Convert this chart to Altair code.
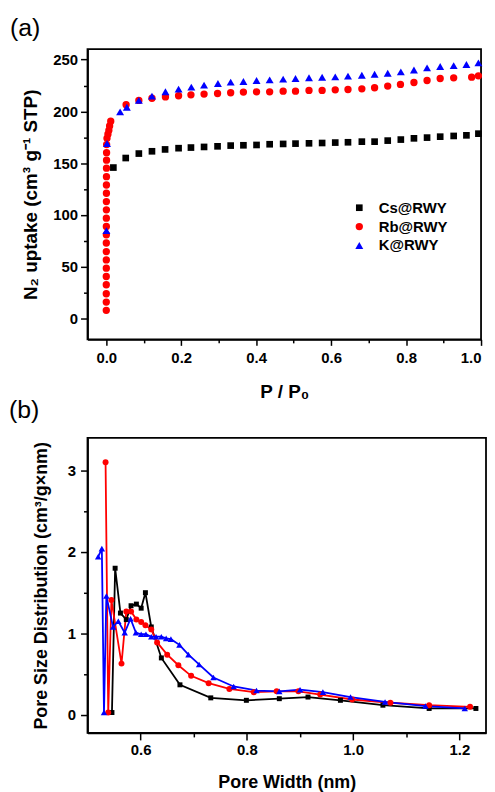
import altair as alt
import pandas as pd

SERIES = ["Cs@RWY", "Rb@RWY", "K@RWY"]
COLORS = ["#000000", "#ff0000", "#0000ff"]
SHAPES = ["square", "circle", "triangle-up"]
FONT = "Liberation Sans"

# ---------------- (a) N2 isotherms ----------------
cs_a_x = [0.019, 0.052, 0.087, 0.122, 0.157, 0.193, 0.226, 0.261, 0.297, 0.332,
          0.366, 0.401, 0.436, 0.472, 0.505, 0.541, 0.576, 0.611, 0.645, 0.682,
          0.716, 0.751, 0.786, 0.821, 0.856, 0.891, 0.927, 0.961, 0.993]
cs_a_y = [145.8, 155.0, 159.3, 161.5, 163.3, 164.5, 165.1, 165.7, 166.3, 167.0,
          167.3, 167.6, 168.3, 168.6, 168.9, 169.2, 169.5, 169.9, 170.2, 170.8,
          170.8, 171.8, 172.8, 174.0, 174.7, 175.6, 176.3, 176.9, 178.5]

rb_a_x = [0.0001, 0.0001, 0.0001, 0.0001, 0.0001, 0.0002, 0.0002, 0.0002, 0.0002,
          0.0003, 0.0003, 0.0003, 0.0004, 0.0004, 0.0005, 0.0005, 0.0006, 0.0007,
          0.0008, 0.0009, 0.0010, 0.002, 0.0045, 0.007, 0.009, 0.012,
          0.053, 0.087, 0.122, 0.158, 0.193, 0.226, 0.261, 0.297, 0.332, 0.366,
          0.401, 0.436, 0.472, 0.505, 0.541, 0.576, 0.611, 0.645, 0.682, 0.716,
          0.751, 0.785, 0.821, 0.856, 0.891, 0.927, 0.975, 0.993]
rb_a_y = [8.0, 16.0, 24.0, 32.7, 40.7, 48.7, 56.7, 64.7, 73.0,
          81.0, 89.0, 97.0, 105.0, 113.0, 121.0, 129.0, 137.0, 145.2,
          152.9, 160.2, 168.0, 174.0, 177.9, 181.7, 185.9, 190.5,
          206.5, 210.6, 212.7, 214.0, 215.1, 216.0, 216.7, 217.3, 218.0, 218.6,
          218.9, 218.9, 219.5, 219.5, 220.2, 220.2, 220.8, 221.1, 221.8, 222.8,
          224.4, 226.0, 227.9, 229.8, 231.7, 232.4, 233.0, 234.3]

k_a_x = [0.0005, 0.002, 0.037, 0.055, 0.087, 0.122, 0.158, 0.193, 0.227, 0.261,
         0.298, 0.332, 0.366, 0.401, 0.436, 0.472, 0.505, 0.541, 0.576, 0.611,
         0.645, 0.682, 0.716, 0.751, 0.786, 0.821, 0.856, 0.891, 0.927, 0.961, 0.993]
k_a_y = [85.0, 169.0, 199.5, 204.0, 210.6, 214.7, 218.9, 221.5, 223.4, 225.3,
         226.9, 228.2, 228.8, 229.8, 230.4, 231.1, 231.7, 232.4, 233.0, 233.3,
         234.0, 234.9, 235.9, 236.8, 238.1, 240.0, 242.0, 243.3, 244.2, 245.2, 246.8]

# ---------------- (b) pore size distribution ----------------
cs_b_x = [0.546, 0.552, 0.562, 0.573, 0.582, 0.592, 0.601, 0.609, 0.620, 0.639,
          0.674, 0.732, 0.799, 0.861, 0.915, 0.976, 1.056, 1.143, 1.231]
cs_b_y = [0.03, 1.80, 1.25, 1.17, 1.34, 1.36, 1.31, 1.50, 1.08, 0.70,
          0.37, 0.21, 0.18, 0.20, 0.22, 0.18, 0.12, 0.08, 0.08]

rb_b_x = [0.534, 0.539, 0.545, 0.564, 0.573, 0.582, 0.592, 0.601, 0.609, 0.620,
          0.631, 0.650, 0.671, 0.695, 0.728, 0.767, 0.813, 0.856, 0.897, 0.938,
          0.998, 1.070, 1.143, 1.220]
rb_b_y = [3.10, 0.03, 1.41, 0.63, 1.27, 1.27, 1.17, 1.14, 1.10, 1.05,
          0.89, 0.74, 0.61, 0.48, 0.39, 0.32, 0.28, 0.29, 0.29, 0.25,
          0.19, 0.15, 0.12, 0.10]

k_b_x = [0.520, 0.527, 0.531, 0.5355, 0.548, 0.558, 0.570, 0.581, 0.591, 0.601,
         0.610, 0.620, 0.629, 0.639, 0.648, 0.657, 0.673, 0.690, 0.710, 0.737,
         0.775, 0.818, 0.861, 0.900, 0.943, 0.995, 1.060, 1.136, 1.210]
k_b_y = [1.94, 2.04, 0.03, 1.46, 1.08, 1.15, 1.01, 1.18, 1.01, 0.99,
         0.99, 0.96, 0.96, 0.96, 0.94, 0.93, 0.86, 0.74, 0.62, 0.46,
         0.35, 0.30, 0.29, 0.31, 0.28, 0.22, 0.16, 0.11, 0.08]

# axis tick values
a_x_major = [0.0, 0.2, 0.4, 0.6, 0.8, 1.0]
a_x_minor = [0.1, 0.3, 0.5, 0.7, 0.9]
a_y_major = [0, 50, 100, 150, 200, 250]
a_y_minor = [25, 75, 125, 175, 225]
b_x_major = [0.6, 0.8, 1.0, 1.2]
b_x_minor = [0.7, 0.9, 1.1]
b_y_major = [0, 1, 2, 3]
b_y_minor = [0.5, 1.5, 2.5]

# legend symbols for (b): a line segment with a small marker in its middle
B_LEGEND_PATHS = [
    "M-5.8,0H5.8M-0.5,-0.5H0.5V0.5H-0.5Z",
    "M-5.8,0H5.8M-0.55,0A0.55,0.55,0,1,0,0.55,0A0.55,0.55,0,1,0,-0.55,0Z",
    "M-5.8,0H5.8M0,-0.8L0.75,0.55L-0.75,0.55Z",
]
B_SIZES = [25, 36, 42]


def frame(names, xs_list, ys_list):
    rows = []
    for n, xs, ys in zip(names, xs_list, ys_list):
        for i, (x, y) in enumerate(zip(xs, ys)):
            rows.append({"series": n, "x": x, "y": y, "i": i})
    return pd.DataFrame(rows)


df_a = frame(SERIES, [cs_a_x, rb_a_x, k_a_x], [cs_a_y, rb_a_y, k_a_y])
df_b = frame(SERIES, [cs_b_x, rb_b_x, k_b_x], [cs_b_y, rb_b_y, k_b_y])

axis_common = dict(
    labelFont=FONT, labelFontWeight="bold", labelColor="black",
    titleFont=FONT, titleFontWeight="bold", titleColor="black",
    domain=True, domainColor="black", domainWidth=1.8,
    ticks=True, tickColor="black", tickWidth=1.5,
    grid=False, labelOverlap=False,
)


def minor_axis(vals, orient, size):
    return alt.Axis(values=vals, orient=orient, labels=False, domain=False, title=None,
                    ticks=True, tickSize=size, tickColor="black", tickWidth=1.5, grid=False)


scale_ax = alt.Scale(domain=[-0.05, 1.0], nice=False, zero=False)
scale_ay = alt.Scale(domain=[-20, 260], nice=False, zero=False)
scale_bx = alt.Scale(domain=[0.5, 1.25], nice=False, zero=False)
scale_by = alt.Scale(domain=[-0.22, 3.4], nice=False, zero=False)

# ---------------- panel (a) ----------------
xa = alt.X("x:Q", scale=scale_ax, axis=alt.Axis(
    values=a_x_major, format=".1f", orient="bottom", tickSize=6,
    labelFontSize=15, labelPadding=5,
    title="P / P₀", titleFontSize=19, titlePadding=17, **axis_common))
ya = alt.Y("y:Q", scale=scale_ay, axis=alt.Axis(
    values=a_y_major, format="d", orient="left", tickSize=7,
    labelFontSize=15, labelPadding=3,
    title="N₂ uptake (cm³ g⁻¹ STP)", titleFontSize=19, titlePadding=12, **axis_common))

legend_a = alt.Legend(
    title=None, orient="none", legendX=266, legendY=152,
    labelFont=FONT, labelFontWeight="bold", labelFontSize=15, labelColor="black",
    symbolSize=36, labelOffset=12, rowPadding=3, padding=0,
    symbolStrokeWidth=0,
)

points_a = alt.Chart(df_a).mark_point(filled=True, opacity=1).encode(
    x=xa,
    y=ya,
    color=alt.Color("series:N", scale=alt.Scale(domain=SERIES, range=COLORS), legend=legend_a),
    shape=alt.Shape("series:N", scale=alt.Scale(domain=SERIES, range=SHAPES), legend=legend_a),
    size=alt.Size("series:O", scale=alt.Scale(domain=SERIES, range=[45, 64, 80]), legend=None),
)
minor_a = alt.Chart(df_a).mark_point(opacity=0).encode(
    x=alt.X("x:Q", scale=scale_ax, axis=minor_axis(a_x_minor, "bottom", 3.5)),
    y=alt.Y("y:Q", scale=scale_ay, axis=minor_axis(a_y_minor, "left", 4)),
)

panel_a = alt.layer(points_a, minor_a).resolve_axis(
    x="independent", y="independent"
).properties(
    width=396, height=292,
    title=alt.TitleParams("(a)", anchor="start", frame="group", dx=-78, offset=8,
                          font=FONT, fontSize=25, fontWeight="normal", color="black"),
)

# ---------------- panel (b) ----------------
xb = alt.X("x:Q", scale=scale_bx, axis=alt.Axis(
    values=b_x_major, format=".1f", orient="bottom", tickSize=7,
    labelFontSize=15, labelPadding=3,
    title="Pore Width (nm)", titleFontSize=18, titlePadding=16, **axis_common))
yb = alt.Y("y:Q", scale=scale_by, axis=alt.Axis(
    values=b_y_major, format="d", orient="left", tickSize=7,
    labelFontSize=15, labelPadding=5,
    title="Pore Size Distribution (cm³/g×nm)", titleFontSize=18, titlePadding=17,
    **axis_common))
xb_none = alt.X("x:Q", scale=scale_bx, axis=None)
yb_none = alt.Y("y:Q", scale=scale_by, axis=None)

legend_b = alt.Legend(
    title=None, orient="none", legendX=280, legendY=15,
    labelFont=FONT, labelFontWeight="bold", labelFontSize=18, labelColor="black",
    symbolSize=36, symbolStrokeWidth=2, symbolOpacity=1, labelOffset=10,
    rowPadding=4, padding=0,
)

# first layer carries the major axes and the legend; its own marks have size 0
legend_layer_b = alt.Chart(df_b).mark_point(filled=False, opacity=1, strokeWidth=2, size=0).encode(
    x=xb, y=yb,
    color=alt.Color("series:N", scale=alt.Scale(domain=SERIES, range=COLORS), legend=legend_b),
    shape=alt.Shape("series:N", scale=alt.Scale(domain=SERIES, range=B_LEGEND_PATHS),
                    legend=legend_b),
)

# lines, one layer per series (fixed colours)
line_layers_b = [
    alt.Chart(df_b).transform_filter(alt.datum.series == name).mark_line(
        color=col, strokeWidth=1.8
    ).encode(x=xb_none, y=yb_none, order="i:Q")
    for name, col in zip(SERIES, COLORS)
]

# markers, one layer per series
point_layers_b = [
    alt.Chart(df_b).transform_filter(alt.datum.series == name).mark_point(
        shape=shp, filled=True, opacity=1, size=sz, color=col
    ).encode(x=xb_none, y=yb_none)
    for name, shp, sz, col in zip(SERIES, SHAPES, B_SIZES, COLORS)
]

minor_b = alt.Chart(df_b).mark_point(opacity=0).encode(
    x=alt.X("x:Q", scale=scale_bx, axis=minor_axis(b_x_minor, "bottom", 4)),
    y=alt.Y("y:Q", scale=scale_by, axis=minor_axis(b_y_minor, "left", 4)),
)

panel_b = alt.layer(legend_layer_b, *line_layers_b, *point_layers_b, minor_b).resolve_axis(
    x="independent", y="independent"
).properties(
    width=401, height=297,
    title=alt.TitleParams("(b)", anchor="start", frame="group", dx=-79, offset=15,
                          font=FONT, fontSize=25, fontWeight="normal", color="black"),
)

chart = alt.vconcat(panel_a, panel_b, spacing=99, bounds="flush").properties(
    padding={"left": 0, "top": 5, "right": 0, "bottom": 0},
    background="white",
).configure_view(
    stroke="black", strokeWidth=1.8,
)

chart.save("out.html", embed_options={"renderer": "svg", "actions": False})
